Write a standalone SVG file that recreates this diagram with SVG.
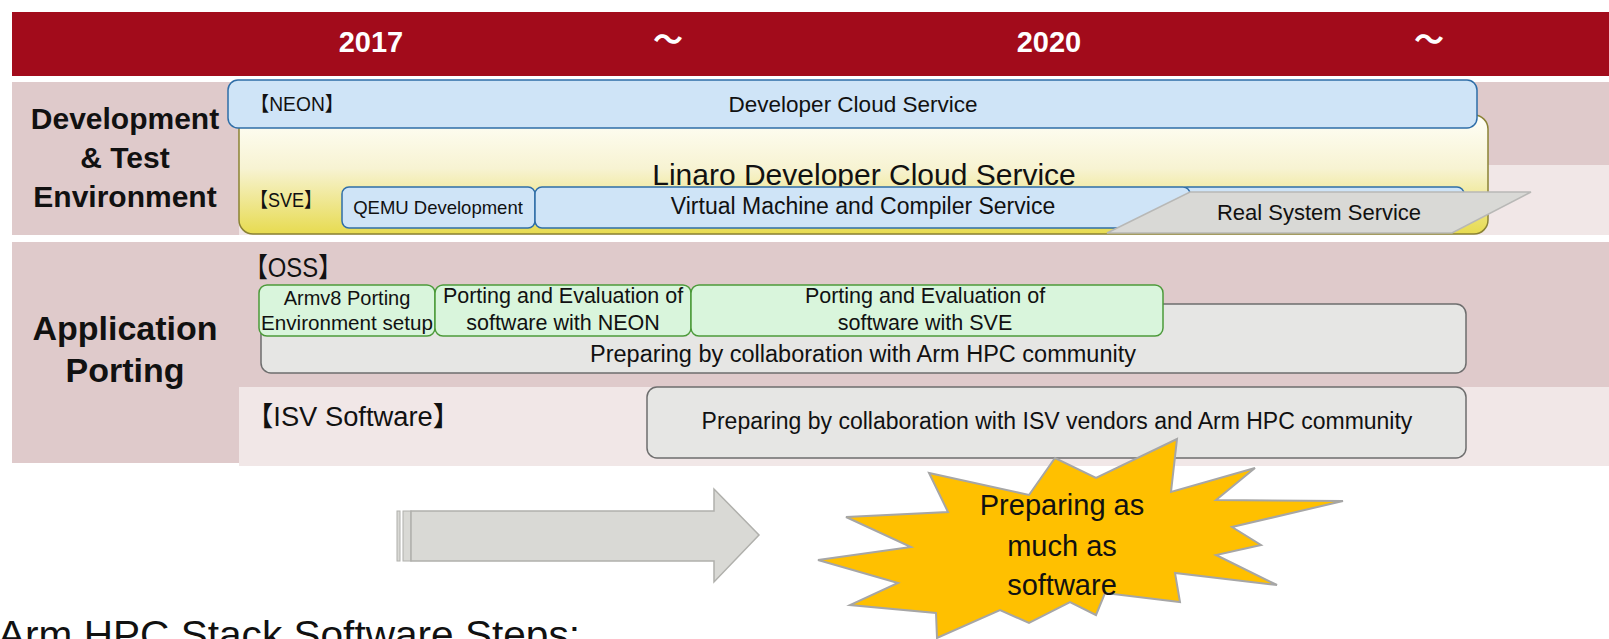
<svg xmlns="http://www.w3.org/2000/svg" width="1609" height="639" viewBox="0 0 1609 639">
<defs>
<linearGradient id="yg" x1="0" y1="0" x2="0" y2="1">
<stop offset="0" stop-color="#FFFFF8"/>
<stop offset="0.45" stop-color="#F7F3D2"/>
<stop offset="1" stop-color="#E7DB50"/>
</linearGradient>
<style>
.t{font-family:"Liberation Sans",Arial,"Noto Sans CJK JP",sans-serif;fill:#111}
.b{font-weight:bold}
.w{fill:#fff}
.m{text-anchor:middle}
.pk{fill:#DFCACB}
.lt{fill:#F1E7E7}
.blue{fill:#CFE4F7;stroke:#2F6EA8;stroke-width:1.5}
.green{fill:#D9F5DC;stroke:#4C9A3A;stroke-width:1.5}
.gray{fill:#E6E6E4;stroke:#6E6E6E;stroke-width:1.5}
</style>
</defs>
<rect width="1609" height="639" fill="#fff"/>
<g id="header">
<rect x="12" y="12" width="1597" height="64" fill="#A20B1B"/>
<text class="t b w m" x="371" y="52" font-size="29">2017</text>
<text class="t b w m" x="668" y="50" font-size="30">～</text>
<text class="t b w m" x="1049" y="52" font-size="29">2020</text>
<text class="t b w m" x="1429" y="50" font-size="30">～</text>
</g>
<g id="bands">
<rect class="pk" x="12" y="82" width="227" height="153"/>
<rect class="pk" x="239" y="82" width="1370" height="83"/>
<rect class="lt" x="239" y="165" width="1370" height="70"/>
<rect class="pk" x="12" y="242" width="227" height="221"/>
<rect class="pk" x="239" y="242" width="1370" height="145"/>
<rect class="lt" x="239" y="387" width="1370" height="79"/>
</g>
<g id="label-dev">
<text class="t b m" x="125" y="129" font-size="30">Development</text>
<text class="t b m" x="125" y="168" font-size="30">&amp; Test</text>
<text class="t b m" x="125" y="207" font-size="30">Environment</text>
</g>
<g id="label-app">
<text class="t b m" x="125" y="340" font-size="34">Application</text>
<text class="t b m" x="125" y="382" font-size="34">Porting</text>
</g>
<g id="linaro">
<rect x="239" y="115" width="1249" height="119" rx="14" fill="url(#yg)" stroke="#8A8235" stroke-width="1.5"/>
<text class="t m" x="864" y="185" font-size="30">Linaro Developer Cloud Service</text>
</g>
<g id="neon">
<rect class="blue" x="228" y="80" width="1249" height="48" rx="10"/>
<text class="t" x="250" y="111" font-size="20" textLength="94" lengthAdjust="spacingAndGlyphs">【NEON】</text>
<text class="t m" x="853" y="112" font-size="22.5">Developer Cloud Service</text>
</g>
<g id="sve-label">
<text class="t" x="250" y="207" font-size="20" textLength="72" lengthAdjust="spacingAndGlyphs">【SVE】</text>
</g>
<g id="qemu">
<rect class="blue" x="342" y="187" width="193" height="41" rx="7"/>
<text class="t m" x="438" y="214" font-size="18.5">QEMU Development</text>
</g>
<g id="vm-extra">
<rect class="blue" x="1180" y="187" width="284" height="41" rx="7"/>
</g>
<g id="vm">
<rect class="blue" x="535" y="187" width="655" height="41" rx="7"/>
<text class="t m" x="863" y="214" font-size="23">Virtual Machine and Compiler Service</text>
</g>
<g id="real">
<polygon points="1190,192 1531,192 1452,233 1107,233" fill="#D9D9D6" stroke="#B8B8B6" stroke-width="1.5"/>
<text class="t m" x="1319" y="220" font-size="22">Real System Service</text>
</g>
<g id="oss-label">
<text class="t" x="244" y="277" font-size="27" textLength="98" lengthAdjust="spacingAndGlyphs">【OSS】</text>
</g>
<g id="oss-community">
<rect class="gray" x="261" y="304" width="1205" height="69" rx="10"/>
<text class="t m" x="863" y="362" font-size="23.5">Preparing by collaboration with Arm HPC community</text>
</g>
<g id="armv8">
<rect class="green" x="259" y="285" width="176" height="51" rx="8"/>
<text class="t m" x="347" y="305" font-size="20">Armv8 Porting</text>
<text class="t m" x="347" y="330" font-size="20" textLength="172" lengthAdjust="spacingAndGlyphs">Environment setup</text>
</g>
<g id="port-neon">
<rect class="green" x="435" y="285" width="256" height="51" rx="8"/>
<text class="t m" x="563" y="303" font-size="21.5">Porting and Evaluation of</text>
<text class="t m" x="563" y="330" font-size="21.5">software with NEON</text>
</g>
<g id="port-sve">
<rect class="green" x="691" y="285" width="472" height="51" rx="8"/>
<text class="t m" x="925" y="303" font-size="21.5">Porting and Evaluation of</text>
<text class="t m" x="925" y="330" font-size="21.5">software with SVE</text>
</g>
<g id="isv-label">
<text class="t" x="246" y="426" font-size="27" textLength="214" lengthAdjust="spacingAndGlyphs">【ISV Software】</text>
</g>
<g id="isv">
<rect class="gray" x="647" y="387" width="819" height="71" rx="10"/>
<text class="t m" x="1057" y="429" font-size="23">Preparing by collaboration with ISV vendors and Arm HPC community</text>
</g>
<g id="connectors">
<rect x="397" y="511" width="3" height="50" fill="#D9D9D5" stroke="#B0B0AC" stroke-width="1"/>
<rect x="403" y="511" width="8" height="50" fill="#D9D9D5" stroke="#B0B0AC" stroke-width="1"/>
<polygon points="411,511 714,511 714,489 759,535 714,582 714,561 411,561" fill="#D9D9D5" stroke="#B0B0AC" stroke-width="1.5"/>
</g>
<g id="starburst">
<polygon points="1177,439 1171,492 1255,468 1216,500 1343,501 1232,527 1261,545 1216,555 1277,585 1175,573 1180,602 1105,593 1096,615 1070,602 1029,623 1000,610 937,638 936,613 850,605 898,583 818,560 911,547 846,517 948,512 929,473 1029,495 1055,458 1096,478" fill="#FFC000" stroke="#A6A6A6" stroke-width="2"/>
<text class="t m" x="1062" y="515" font-size="29">Preparing as</text>
<text class="t m" x="1062" y="556" font-size="29">much as</text>
<text class="t m" x="1062" y="595" font-size="29">software</text>
</g>
<g id="footer">
<text class="t" x="-2" y="648" font-size="39" textLength="582" lengthAdjust="spacingAndGlyphs">Arm HPC Stack Software Steps:</text>
</g>
</svg>
